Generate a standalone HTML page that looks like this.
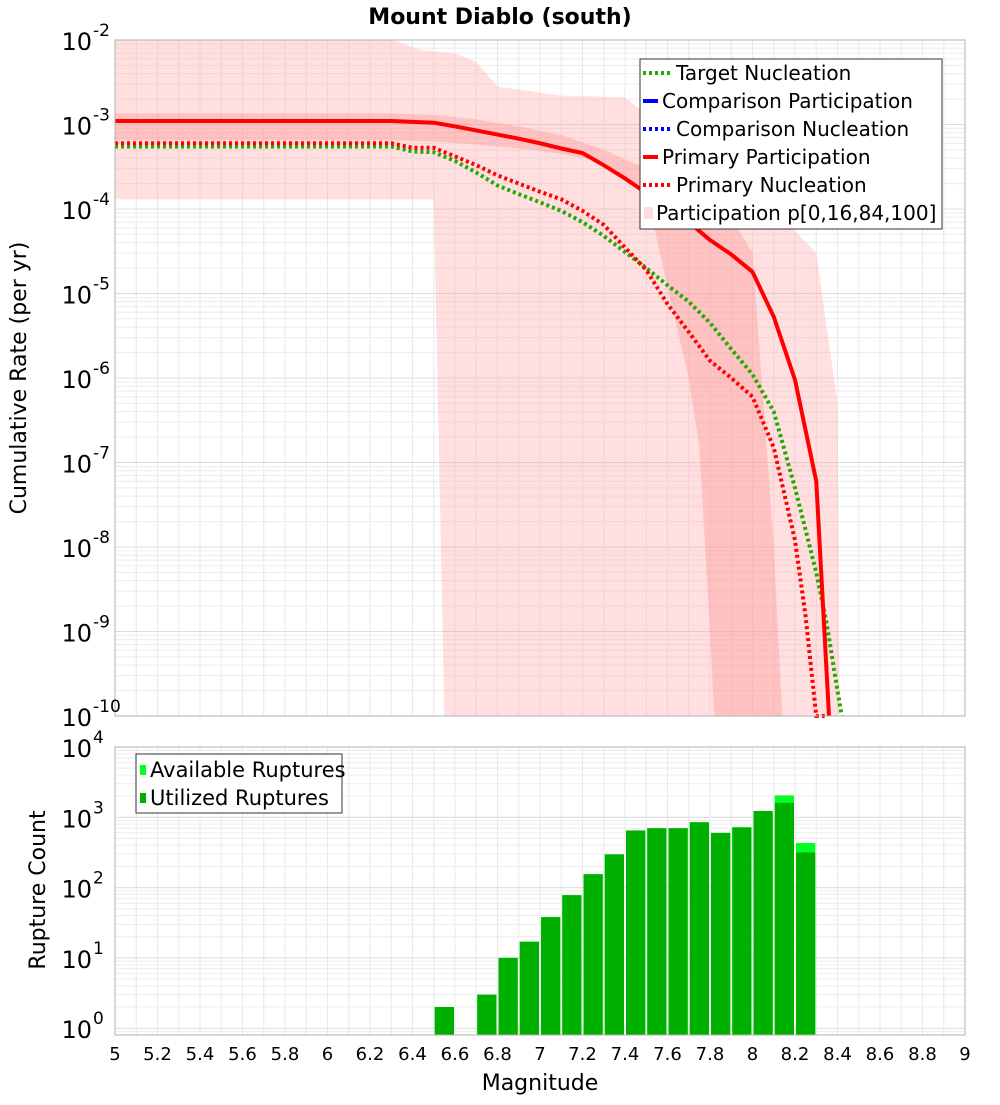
<!DOCTYPE html>
<html><head><meta charset="utf-8"><style>
body{margin:0;background:#fff;font-family:"Liberation Sans","DejaVu Sans",sans-serif}
svg text{font-family:"DejaVu Sans","Liberation Sans",sans-serif}
</style></head><body>
<svg id="c" width="1000" height="1100" xmlns="http://www.w3.org/2000/svg">
<rect width="1000" height="1100" fill="#fff"/>
<text x="500" y="24" text-anchor="middle" font-size="22" font-weight="bold">Mount Diablo (south)</text>
<g id="topg"></g><g id="botg"></g>
</svg>
<script>
// ---- data ----
const primPartM=[5,6.3,6.5,6.6,6.7,6.8,6.9,7.0,7.1,7.2,7.3,7.4,7.5,7.6,7.7,7.8,7.9,8.0,8.1,8.2,8.3,8.36];
const primPartV=[1.1e-3,1.1e-3,1.05e-3,9.5e-4,8.5e-4,7.6e-4,6.8e-4,6.0e-4,5.2e-4,4.6e-4,3.3e-4,2.3e-4,1.55e-4,1.0e-4,7e-5,4.3e-5,2.9e-5,1.8e-5,5.3e-6,9.5e-7,6e-8,1e-10];
const primNuclM=[5,6.3,6.4,6.5,6.6,6.7,6.8,6.9,7.0,7.1,7.2,7.3,7.4,7.5,7.6,7.7,7.8,7.9,8.0,8.1,8.2,8.25,8.3,8.34];
const primNuclV=[6e-4,6e-4,5.3e-4,5.3e-4,4.2e-4,3.3e-4,2.5e-4,2.0e-4,1.6e-4,1.3e-4,9.5e-5,6.5e-5,3.5e-5,1.9e-5,7.5e-6,3.5e-6,1.6e-6,1.0e-6,6e-7,1.5e-7,1.2e-8,1.5e-9,1e-10,1e-10];
const targNuclM=[5,6.3,6.4,6.5,6.6,6.7,6.8,6.9,7.0,7.1,7.2,7.3,7.4,7.5,7.6,7.7,7.8,7.9,8.0,8.1,8.2,8.3,8.35,8.4,8.42];
const targNuclV=[5.5e-4,5.5e-4,4.8e-4,4.7e-4,3.7e-4,2.7e-4,1.9e-4,1.5e-4,1.2e-4,9.5e-5,7e-5,4.8e-5,3.1e-5,2.0e-5,1.25e-5,8e-6,4.5e-6,2.2e-6,1.1e-6,4e-7,5e-8,5e-9,1.2e-9,2e-10,1e-10];
const outerUpM=[5,6.3,6.45,6.6,6.7,6.8,7.1,7.4,7.5,7.6,7.8,8.0,8.2,8.3,8.4,8.41];
const outerUpV=[2e-2,1.1e-2,7.5e-3,7e-3,5.5e-3,2.8e-3,2.2e-3,2.1e-3,1.3e-3,6e-4,2.6e-4,1.2e-4,5.5e-5,3e-5,5e-7,1e-10];
const outerLoM=[5,6.5,6.55];
const outerLoV=[1.3e-4,1.3e-4,1e-10];
const innerUpM=[5,6.3,6.5,6.7,6.9,7.1,7.3,7.5,7.7,7.9,8.0,8.1,8.14];
const innerUpV=[1.35e-3,1.35e-3,1.3e-3,1.15e-3,9.5e-4,7.5e-4,5e-4,3e-4,1.6e-4,8e-5,3e-5,1e-8,1e-10];
const innerLoM=[5,6.3,6.5,6.7,6.9,7.1,7.3,7.5,7.6,7.7,7.75,7.8,7.82];
const innerLoV=[6.5e-4,6.5e-4,6.3e-4,5.8e-4,5.2e-4,4.5e-4,3.6e-4,1.6e-4,1.2e-5,1e-6,1.5e-7,1e-9,1e-10];
const binStart=[6.5,6.7,6.8,6.9,7.0,7.1,7.2,7.3,7.4,7.5,7.6,7.7,7.8,7.9,8.0,8.1,8.2];
const availCount=[2,3,10,17,38,78,155,297,650,700,700,850,600,720,1230,2050,430];
const utilCount=[2,3,10,17,38,78,155,297,650,700,700,850,600,720,1230,1600,316];
const xTicks=[5,5.2,5.4,5.6,5.8,6,6.2,6.4,6.6,6.8,7,7.2,7.4,7.6,7.8,8,8.2,8.4,8.6,8.8,9];
const xTickLabels=["5","5.2","5.4","5.6","5.8","6","6.2","6.4","6.6","6.8","7","7.2","7.4","7.6","7.8","8","8.2","8.4","8.6","8.8","9"];
const topExp=[-2,-3,-4,-5,-6,-7,-8,-9,-10];
const botExp=[4,3,2,1,0];
// ---- axes ----
const NS="http://www.w3.org/2000/svg";
const X0=115,X1=965;
const xs=m=>X0+(m-5)*(X1-X0)/4;
const T0=40,T1=716;
const yT=v=>{const l=Math.log10(Math.max(v,1e-10));return Math.min(T1,Math.max(T0,T0+(-2-l)*(T1-T0)/8));};
const B0=747,B1=1035,BPD=70.3;
const yB=v=>Math.min(B1,B0+(4-Math.log10(v))*BPD);
function el(p,t,a){const e=document.createElementNS(NS,t);for(const k in a)e.setAttribute(k,a[k]);p.appendChild(e);return e;}
const gTop=document.getElementById('topg'),gBot=document.getElementById('botg');
function grid(g,y0,y1,ys,d0,d1){
 const gg=el(g,'g',{});
 
 
 for(let i=0;i<=40;i++){const x=xs(5+i*0.1);el(gg,'line',{x1:x,x2:x,y1:y0,y2:y1,stroke:'#e8e8e8','stroke-width':1});}
 for(let d=d0;d<d1;d++)for(let k=1;k<10;k++){const y=ys(k*Math.pow(10,d));if(y>=y0&&y<=y1)el(gg,'line',{x1:X0,x2:X1,y1:y,y2:y,stroke:k==1?'#dcdcdc':'#ececec','stroke-width':1});}
}
grid(gTop,T0,T1,yT,-10,-2);
grid(gBot,B0,B1,yB,-1,4);
function poly(M,V,ys){return M.map((m,i)=>xs(m)+','+ys(V[i])).join(' ');}
function band(upM,upV,loM,loV,fill,name){
 const lo=loM.map((m,i)=>xs(m)+','+yT(loV[i])).reverse().join(' ');
 const p=el(gTop,'polygon',{points:poly(upM,upV,yT)+' '+lo,fill:fill});
 
 
}
band(outerUpM,outerUpV,outerLoM,outerLoV,'rgba(255,170,170,0.38)','band-p0-p100');
band(innerUpM,innerUpV,innerLoM,innerLoV,'rgba(255,140,140,0.35)','band-p16-p84');
function line(M,V,col,dash,name){
 const p=el(gTop,'polyline',{points:poly(M,V,yT),fill:'none',stroke:col,'stroke-width':4,'stroke-dasharray':dash?'3,3':'none'});
 
 
}
line(targNuclM,targNuclV,'#22aa00',true,'target-nucleation-line');
line(primNuclM,primNuclV,'#ff0000',true,'primary-nucleation-line');
line(primPartM,primPartV,'#ff0000',false,'primary-participation-line');
el(gTop,'rect',{x:X0,y:T0,width:X1-X0,height:T1-T0,fill:'none',stroke:'#b0b0b0'});
topExp.forEach(e=>{const y=T0+(-2-e)*(T1-T0)/8;
 const t=el(gTop,'text',{x:92,y:y+10,'text-anchor':'end','font-size':24});
 
 
 t.textContent='10';
 const s=el(gTop,'text',{x:93,y:y-4,'font-size':17});s.textContent=String(e);});
binStart.forEach((m,i)=>{
 const x=xs(m)+1,w=xs(m+0.1)-xs(m)-2;
 const a=el(gBot,'rect',{x:x,y:yB(availCount[i]),width:w,height:B1-yB(availCount[i]),fill:'#00ff22'});
 
 
 const u=el(gBot,'rect',{x:x,y:yB(utilCount[i]),width:w,height:B1-yB(utilCount[i]),fill:'#00b000'});
 
 
});
el(gBot,'rect',{x:X0,y:B0,width:X1-X0,height:B1-B0,fill:'none',stroke:'#b0b0b0'});
botExp.forEach(e=>{const y=B0+(4-e)*BPD;
 const t=el(gBot,'text',{x:92,y:y+10,'text-anchor':'end','font-size':24});
 
 
 t.textContent='10';
 const s=el(gBot,'text',{x:93,y:y-4,'font-size':17});s.textContent=String(e);});
xTicks.forEach((m,i)=>{const t=el(gBot,'text',{x:xs(m),y:1060,'text-anchor':'middle','font-size':18});
 
 
 t.textContent=xTickLabels[i];});
</script>
<svg style="position:absolute;left:0;top:0" width="1000" height="1100" xmlns="http://www.w3.org/2000/svg">
<text transform="translate(26,378) rotate(-90)" text-anchor="middle" font-size="22">Cumulative Rate (per yr)</text>
<text transform="translate(45,890) rotate(-90)" text-anchor="middle" font-size="22">Rupture Count</text>
<text x="540" y="1090" text-anchor="middle" font-size="22">Magnitude</text>
<g font-size="20">
<rect x="640" y="59" width="302" height="170" fill="#fff" stroke="#333"/>
<line x1="643" y1="73" x2="670" y2="73" stroke="#22aa00" stroke-width="4" stroke-dasharray="3,3"/><text x="676" y="80">Target Nucleation</text>
<line x1="643" y1="101" x2="658" y2="101" stroke="#0000ff" stroke-width="4"/><text x="662" y="108">Comparison Participation</text>
<line x1="643" y1="129" x2="670" y2="129" stroke="#0000ff" stroke-width="4" stroke-dasharray="3,3"/><text x="676" y="136">Comparison Nucleation</text>
<line x1="643" y1="157" x2="658" y2="157" stroke="#ff0000" stroke-width="4"/><text x="662" y="164">Primary Participation</text>
<line x1="643" y1="185" x2="670" y2="185" stroke="#ff0000" stroke-width="4" stroke-dasharray="3,3"/><text x="676" y="192">Primary Nucleation</text>
<rect x="644" y="207" width="9" height="12" fill="#ffdddd"/><text x="656" y="220">Participation p[0,16,84,100]</text>
</g>
<g font-size="21">
<rect x="136" y="754" width="206" height="59" fill="#fff" stroke="#333"/>
<rect x="140" y="765" width="6" height="10" fill="#00ff22"/><text x="150" y="777">Available Ruptures</text>
<rect x="140" y="793" width="6" height="10" fill="#00b000"/><text x="150" y="805">Utilized Ruptures</text>
</g>
</svg>
</body></html>
